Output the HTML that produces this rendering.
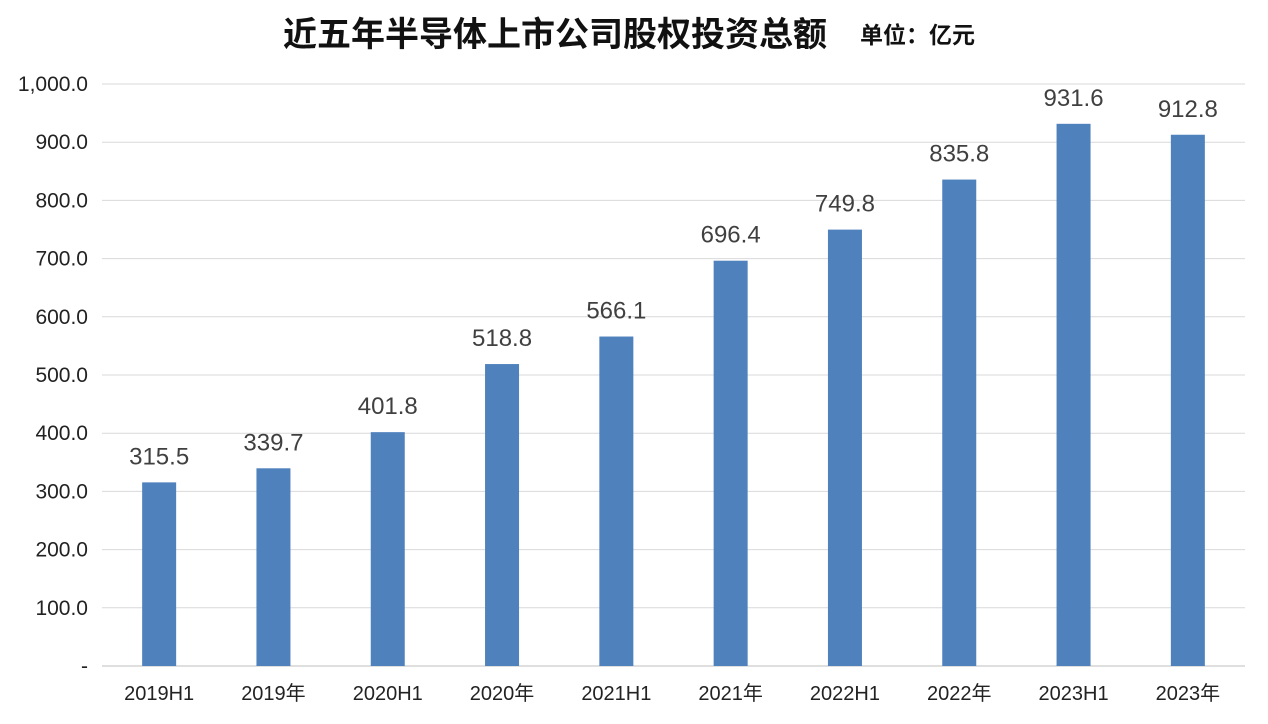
<!DOCTYPE html>
<html><head><meta charset="utf-8">
<style>
html,body{margin:0;padding:0;background:#fff;}
svg{display:block;font-family:"Liberation Sans","Noto Sans CJK SC",sans-serif;}
</style></head>
<body>
<svg id="chart" width="1268" height="724" viewBox="0 0 1268 724">
<text x="555" y="46" text-anchor="middle" font-size="34" font-weight="bold" fill="#111">近五年半导体上市公司股权投资总额</text>
<text x="860" y="43" font-size="23" font-weight="bold" fill="#111">单位：亿元</text>
<g id="grid"></g>
<g id="yticks"></g>
<g id="bars"></g>
<g id="xlabels"></g>
</svg>
<script>
const categories=["2019H1","2019年","2020H1","2020年","2021H1","2021年","2022H1","2022年","2023H1","2023年"];
const values=[315.5,339.7,401.8,518.8,566.1,696.4,749.8,835.8,931.6,912.8];
const yTicks=[0,100,200,300,400,500,600,700,800,900,1000];
const yTickLabels=["-","100.0","200.0","300.0","400.0","500.0","600.0","700.0","800.0","900.0","1,000.0"];

const NS="http://www.w3.org/2000/svg";
const plotL=102,plotR=1245,y0=666,y1=84,yMax=1000;
const y=v=>y0-(v/yMax)*(y0-y1);
const band=(plotR-plotL)/categories.length;
const x=i=>plotL+band*(i+0.5);
const bw=34;
function mk(tag,attrs,parent,text){const e=document.createElementNS(NS,tag);for(const k in attrs)e.setAttribute(k,attrs[k]);if(text!==undefined)e.textContent=text;document.getElementById(parent).appendChild(e);return e;}

yTicks.forEach((t,i)=>{
  const gl=mk("line",{x1:plotL,x2:plotR,y1:y(t),y2:y(t),stroke:i===0?"#bfbfbf":"#d9d9d9","stroke-width":1},"grid");
  
  
  const tl=mk("text",{x:88,y:y(t)+7,"text-anchor":"end","font-size":21,fill:"#222"},"yticks",yTickLabels[i]);
  
  
});
categories.forEach((c,i)=>{
  const v=values[i];
  const r=mk("rect",{x:x(i)-bw/2,y:y(v),width:bw,height:y0-y(v),fill:"#4f81bd"},"bars");
  
  
  const l=mk("text",{x:x(i),y:y(v)-18,"text-anchor":"middle","font-size":24,fill:"#404040"},"bars",v.toFixed(1));
  
  
  const xl=mk("text",{x:x(i),y:700,"text-anchor":"middle","font-size":20,fill:"#222"},"xlabels",c);
  
  
});
</script>
</body></html>
